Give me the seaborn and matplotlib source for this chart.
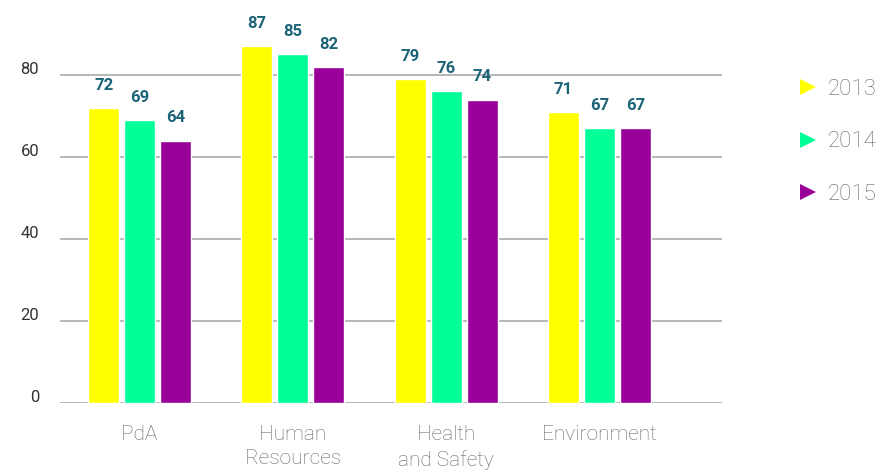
import matplotlib
matplotlib.use("Agg")
import matplotlib.pyplot as plt
from matplotlib.lines import Line2D
from matplotlib.transforms import ScaledTranslation
import seaborn as sns
import pandas as pd

categories = ["PdA", "Human\nResources", "Health\nand Safety", "Environment"]
years = ["2013", "2014", "2015"]
v2013 = [72, 87, 79, 71]
v2014 = [69, 85, 76, 67]
v2015 = [64, 82, 74, 67]
yticks = [0, 20, 40, 60, 80]
colors = ["#FFFF00", "#00FF99", "#990099"]

rows = []
for y, vals in zip(years, [v2013, v2014, v2015]):
    for c, v in zip(categories, vals):
        rows.append({"cat": c, "year": y, "val": v})
df = pd.DataFrame(rows)

sns.set_style("white")
plt.rcParams["font.family"] = ["Roboto", "DejaVu Sans"]

fig = plt.figure(figsize=(8.83, 4.72), dpi=100)
ax = fig.add_axes([60/883, 1-403/472, (722-60)/883, 369/472])

sns.barplot(data=df, x="cat", y="val", hue="year", palette=colors,
            width=0.705, gap=0.14, ax=ax, legend=False, saturation=1,
            order=categories, hue_order=years)

ax.set_ylim(0, 90)
ax.set_xlim(-0.52, 3.80)
ax.set_yticks(yticks)
ax.yaxis.grid(True, color="#aaaaaa", lw=1.2)
ax.set_axisbelow(True)
for s in ax.spines.values():
    s.set_visible(False)
ax.tick_params(axis="y", length=0, pad=15, labelsize=12, labelcolor="#333333")
ax.tick_params(axis="x", length=0, pad=16, labelsize=15, labelcolor="#666666")
shift = ScaledTranslation(0, 7/100, fig.dpi_scale_trans)
for t in ax.get_yticklabels():
    t.set_transform(t.get_transform() + shift)
for t in ax.get_xticklabels():
    t.set_fontweight("light")
    t.set_linespacing(1.35)
ax.set_xlabel("")
ax.set_ylabel("")

for cont in ax.containers:
    ax.bar_label(cont, padding=11, color="#1b6377", fontsize=12, fontweight="bold")

handles = [Line2D([], [], marker=">", ls="", color=c, markersize=12,
                  markeredgewidth=0) for c in colors]
leg = fig.legend(handles, years, loc="upper left", bbox_to_anchor=(786/883, 1-70/472),
                 frameon=False, fontsize=16, labelspacing=1.42, handletextpad=0.3,
                 handlelength=1.2, borderaxespad=0)
for t in leg.get_texts():
    t.set_color("#666666")
    t.set_fontweight("light")

fig.savefig("out.png", dpi=100)
